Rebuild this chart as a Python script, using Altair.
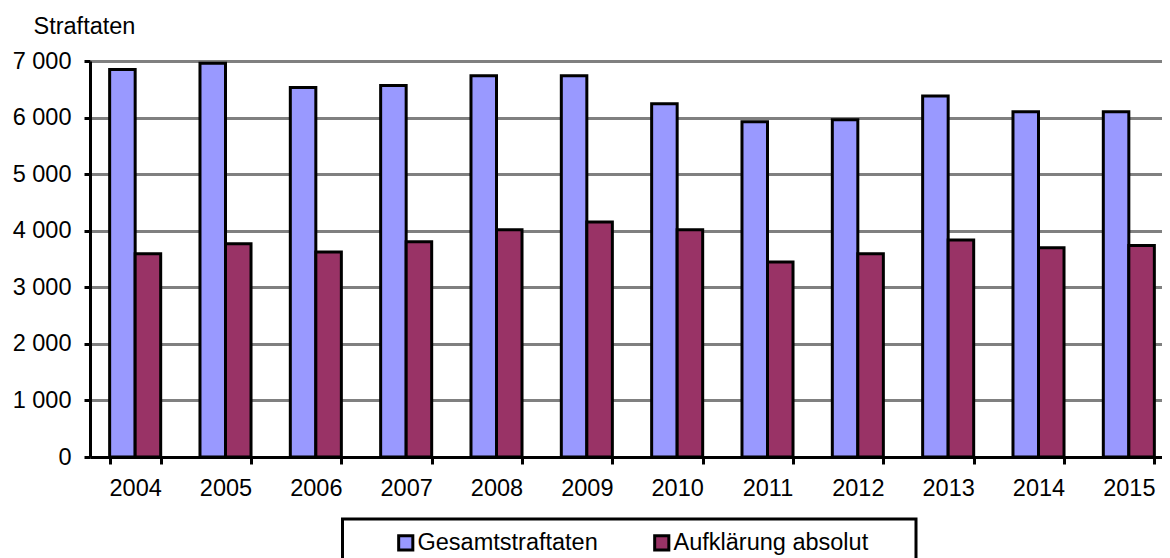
import altair as alt
import pandas as pd

years = ["2004", "2005", "2006", "2007", "2008", "2009", "2010", "2011", "2012", "2013", "2014", "2015"]
gesamt = [6850, 6960, 6530, 6565, 6740, 6740, 6245, 5925, 5960, 6380, 6105, 6105]
aufklaerung = [3595, 3770, 3625, 3805, 4015, 4155, 4015, 3445, 3595, 3835, 3700, 3740]
series = ["Gesamtstraftaten", "Aufklärung absolut"]
colors = ["#9999FF", "#993366"]
y_ticks = [0, 1000, 2000, 3000, 4000, 5000, 6000, 7000]

rows = []
for i, yr in enumerate(years):
    rows.append({"Jahr": yr, "Serie": series[0], "Wert": gesamt[i], "ord": 0})
    rows.append({"Jahr": yr, "Serie": series[1], "Wert": aufklaerung[i], "ord": 1})
df = pd.DataFrame(rows)

FONT = "Liberation Sans"
FS = 23.5

bars = alt.Chart(df).mark_bar(stroke="black", strokeWidth=3, strokeJoin="miter").encode(
    x=alt.X("Jahr:N", sort=years,
            scale=alt.Scale(range=[0, 1084], paddingInner=0.435, paddingOuter=0.2175),
            axis=alt.Axis(title=None, labelAngle=0, tickBand="extent", tickSize=7, tickWidth=3,
                          tickColor="black", domainColor="black", domainWidth=3,
                          labelFontSize=FS, labelFont=FONT, labelColor="black",
                          labelPadding=12, grid=False)),
    xOffset=alt.XOffset("Serie:N", sort=series, scale=alt.Scale(domain=series, paddingInner=0, paddingOuter=0)),
    y=alt.Y("Wert:Q", scale=alt.Scale(domain=[0, 7000], nice=False),
            axis=alt.Axis(values=y_ticks, title="Straftaten", titleAngle=0, titleAlign="left",
                          titleBaseline="alphabetic", titleX=-57, titleY=-28,
                          titleFontSize=FS, titleFont=FONT, titleFontWeight="normal", titleColor="black",
                          labelExpr="replace(format(datum.value, ','), ',', ' ')",
                          labelFontSize=FS, labelFont=FONT, labelColor="black", labelPadding=13,
                          tickSize=6, tickWidth=3, tickColor="black",
                          domainColor="black", domainWidth=3,
                          grid=True, gridColor="#808080", gridWidth=3)),
    color=alt.Color("Serie:N", sort=series,
                    scale=alt.Scale(domain=series, range=colors),
                    legend=alt.Legend(title=None, orient="none", direction="horizontal",
                                      legendX=304, legendY=470, padding=0,
                                      symbolType="square", symbolSize=200, symbolStrokeColor="black",
                                      symbolStrokeWidth=3, symbolOpacity=1,
                                      labelFontSize=FS, labelFont=FONT, labelColor="black",
                                      labelLimit=400, labelOffset=0, columnPadding=50)),
    order=alt.Order("ord:Q"),
)

box_df = pd.DataFrame({"a": [0]})
box = alt.Chart(box_df).mark_rect(fillOpacity=0, stroke="black", strokeWidth=3).encode(
    x=alt.value(252.5), x2=alt.value(826), y=alt.value(458), y2=alt.value(600)
)

chart = alt.layer(bars, box).properties(
    width=1072, height=396,
    padding={"left": 82, "top": 53, "right": 0, "bottom": 101},
    autosize="none",
).configure_view(stroke=None).configure(background="white")

chart.save("out.html", embed_options={"renderer": "svg", "actions": False})
